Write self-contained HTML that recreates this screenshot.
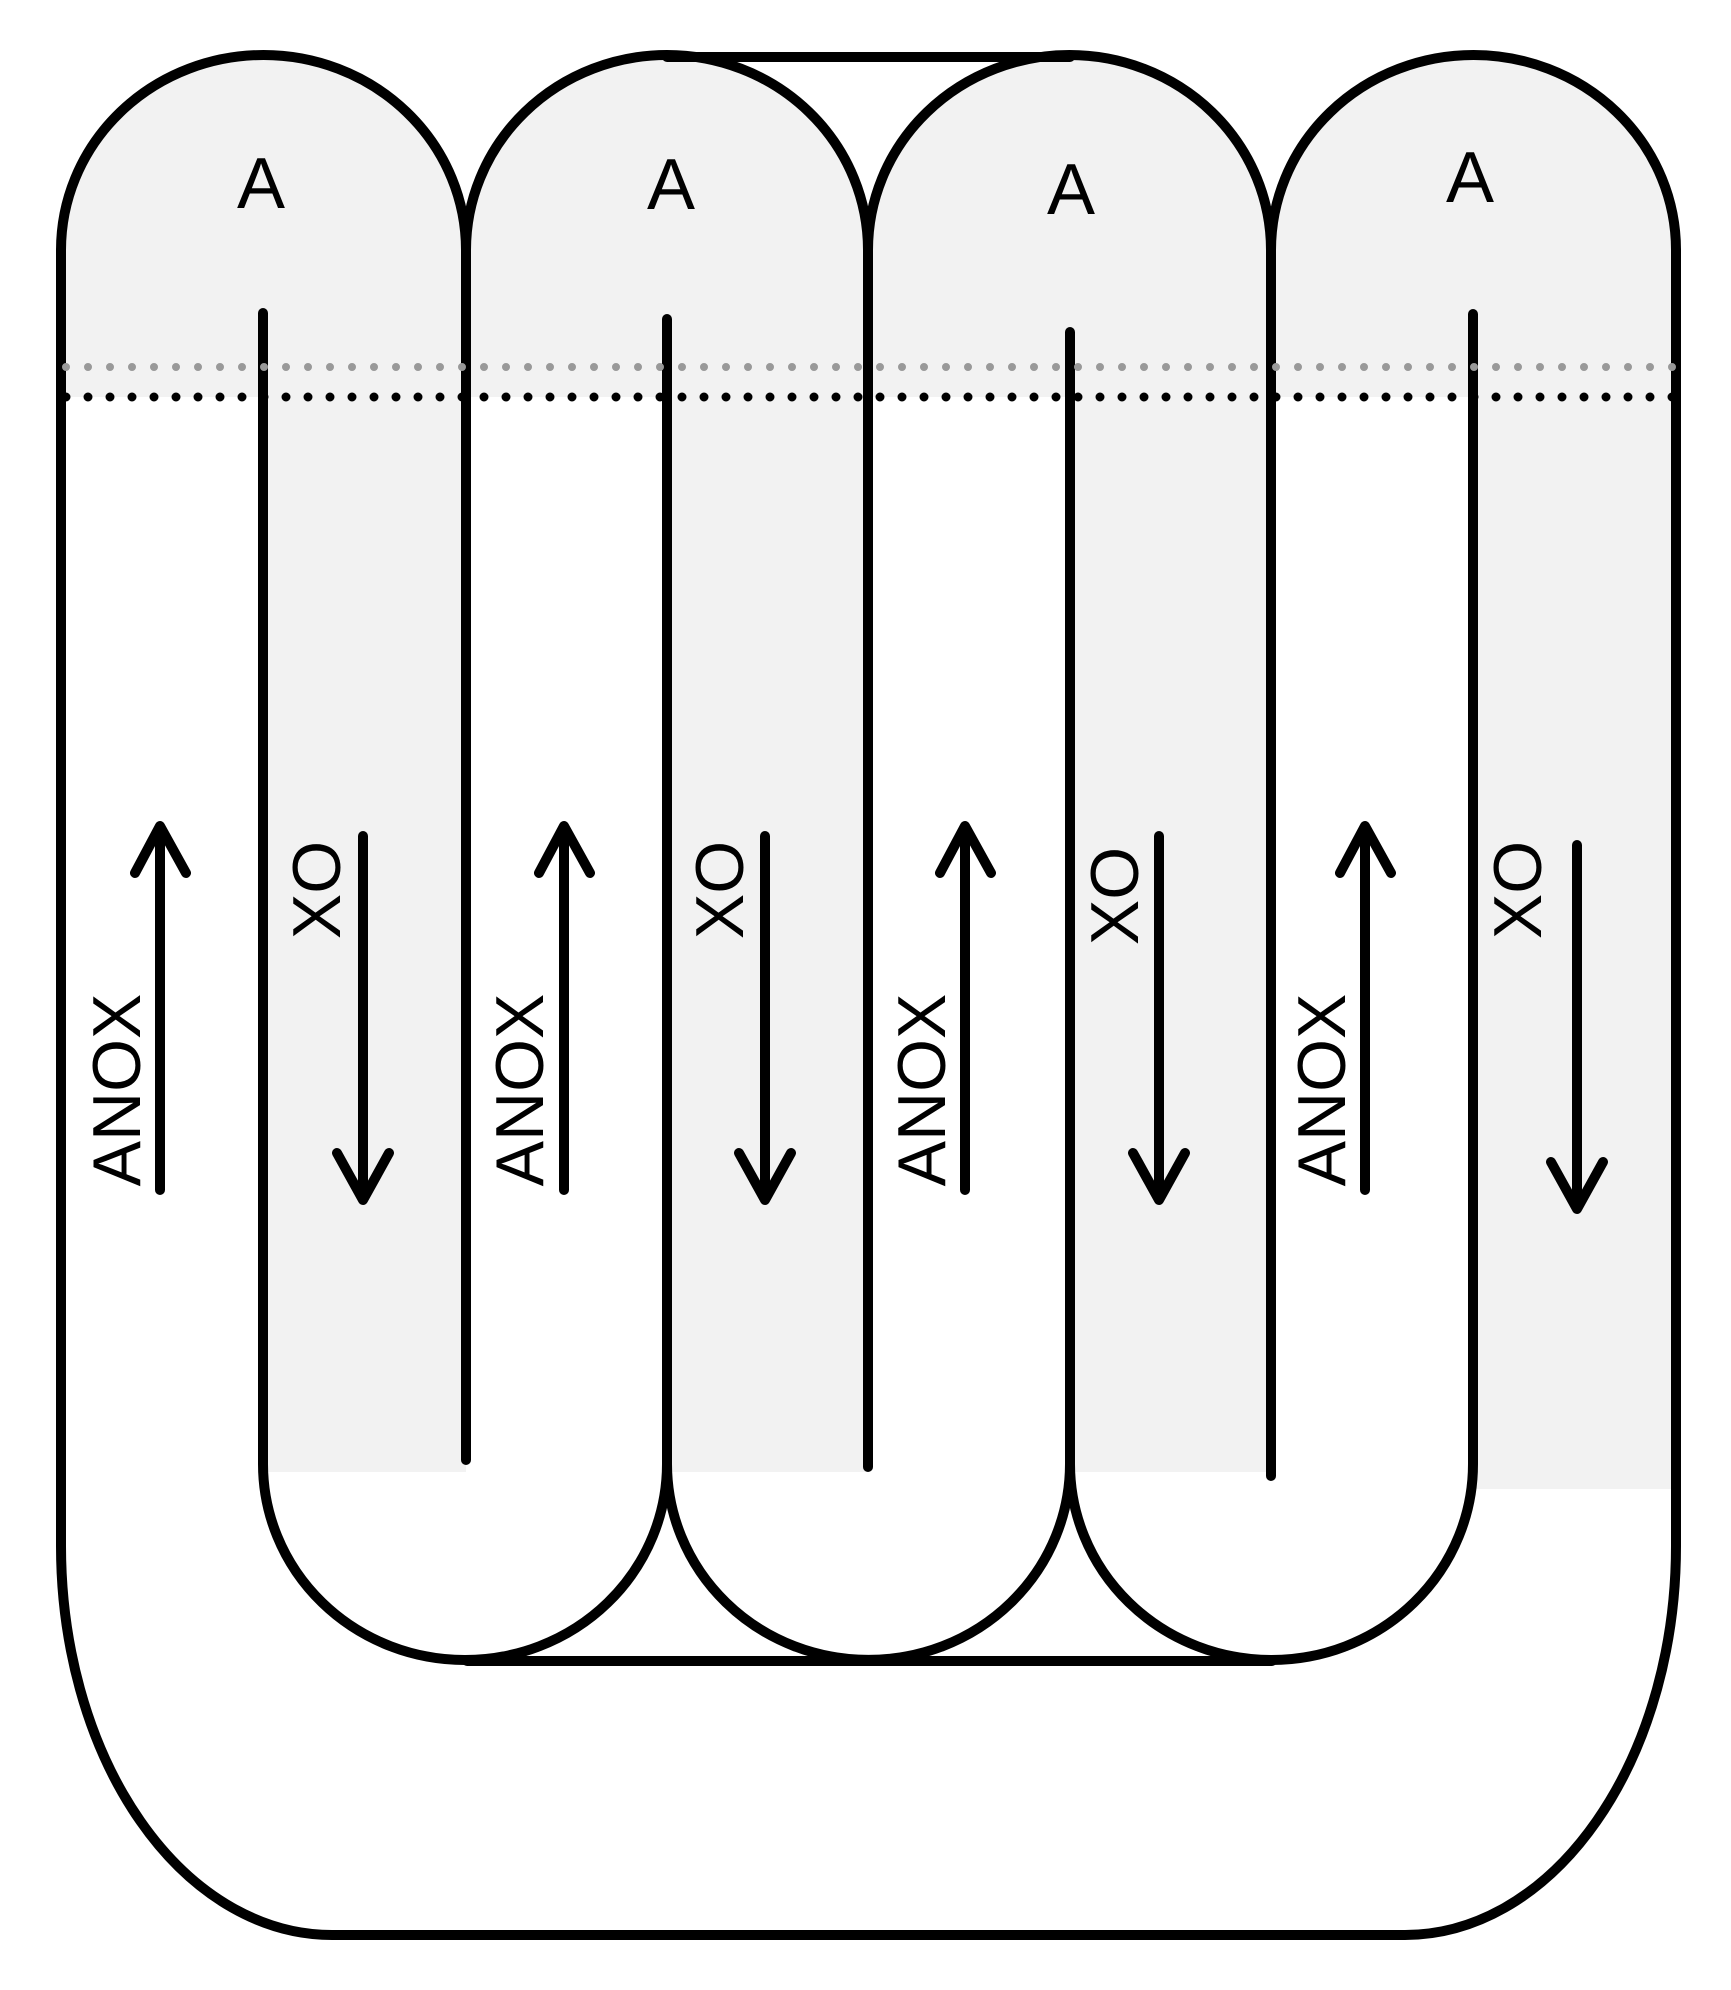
<!DOCTYPE html>
<html><head><meta charset="utf-8"><style>
html,body{margin:0;padding:0;background:#fff;}
svg{display:block;}
text{font-family:"Liberation Sans",Arial,sans-serif;fill:#000;}
</style></head><body>
<svg width="1731" height="1990" viewBox="0 0 1731 1990" xmlns="http://www.w3.org/2000/svg">
<g fill="#f2f2f2" stroke="none">
<path d="M61,397 V250 A202.5 195 0 0 1 466,250 V397 Z"/>
<path d="M466,397 V250 A201 195 0 0 1 868,250 V397 Z"/>
<path d="M868,397 V250 A201.5 195 0 0 1 1271,250 V397 Z"/>
<path d="M1271,397 V250 A202.5 195 0 0 1 1676,250 V397 Z"/>
<rect x="263" y="250" width="203" height="1222"/>
<rect x="667" y="250" width="201" height="1222"/>
<rect x="1070" y="250" width="201" height="1222"/>
<rect x="1473" y="250" width="203" height="1239"/>
</g>
<g fill="none" stroke="#000" stroke-width="10" stroke-linecap="round">
<path d="M61,250 V1546 A271 389 0 0 0 332,1935 H1405 A271 389 0 0 0 1676,1546 V250"/>
<path d="M61,250 A202.5 195 0 0 1 466,250"/>
<path d="M466,250 A201 195 0 0 1 868,250"/>
<path d="M868,250 A201.5 195 0 0 1 1271,250"/>
<path d="M1271,250 A202.5 195 0 0 1 1676,250"/>
<line x1="667" y1="57" x2="1070" y2="57"/>
<line x1="466" y1="250" x2="466" y2="1460"/>
<line x1="868" y1="250" x2="868" y2="1467"/>
<line x1="1271" y1="250" x2="1271" y2="1476"/>
<path d="M263,313 V1464 A202 196 0 0 0 667,1464"/>
<path d="M667,319 V1464 A201.5 196 0 0 0 1070,1464"/>
<path d="M1070,332 V1464 A201.5 196 0 0 0 1473,1464 V314"/>
<line x1="467" y1="1661" x2="1272" y2="1661"/>
</g>
<line x1="66" y1="367" x2="1676" y2="367" stroke="#999" stroke-width="8" stroke-dasharray="0 22" stroke-linecap="round"/>
<line x1="66" y1="397" x2="1676" y2="397" stroke="#000" stroke-width="9" stroke-dasharray="0 22" stroke-linecap="round"/>
<g fill="none" stroke="#000" stroke-width="10" stroke-linecap="round" stroke-linejoin="round">
<path d="M160,1190 V826 M135,873 L160,826 L186,873"/>
<path d="M564,1190 V826 M539,873 L564,826 L590,873"/>
<path d="M965,1190 V826 M940,873 L965,826 L991,873"/>
<path d="M1365,1190 V826 M1340,873 L1365,826 L1391,873"/>
<path d="M363,836 V1200 M337,1153 L363,1200 L389,1153"/>
<path d="M765,836 V1200 M739,1153 L765,1200 L791,1153"/>
<path d="M1159,836 V1200 M1133,1153 L1159,1200 L1185,1153"/>
<path d="M1577,845 V1209 M1551,1162 L1577,1209 L1603,1162"/>
</g>
<g font-size="72" text-anchor="middle">
<text x="261" y="208">A</text>
<text x="671" y="209">A</text>
<text x="1071" y="214">A</text>
<text x="1470" y="202">A</text>
</g>
<g font-size="68" text-anchor="middle">
<text transform="translate(140,1090) rotate(-90)">ANOX</text>
<text transform="translate(543,1090) rotate(-90)">ANOX</text>
<text transform="translate(945,1090) rotate(-90)">ANOX</text>
<text transform="translate(1345,1090) rotate(-90)">ANOX</text>
<text transform="translate(340,890) rotate(-90)">XO</text>
<text transform="translate(743,890) rotate(-90)">XO</text>
<text transform="translate(1138,896) rotate(-90)">XO</text>
<text transform="translate(1541,890) rotate(-90)">XO</text>
</g>
</svg>
</body></html>
